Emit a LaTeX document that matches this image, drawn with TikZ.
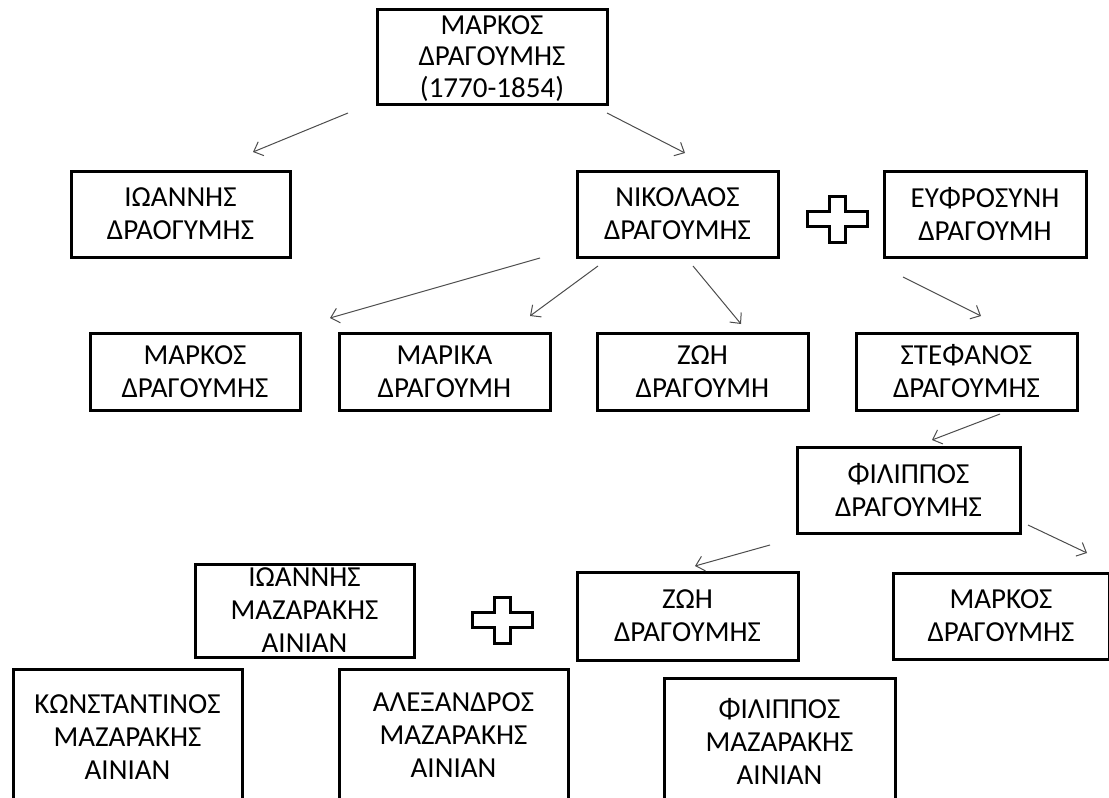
\documentclass[tikz,border=0pt]{standalone}
\usepackage{fontspec}
\setmainfont{Carlito}
\usetikzlibrary{arrows.meta}
\begin{document}
\begin{tikzpicture}[x=1pt,y=-1pt,
  box/.style={draw=black,line width=3pt,align=center,inner sep=0pt,
    font=\fontsize{29}{33}\selectfont},
  arr/.style={draw=black!70,line width=1pt,
    -{Straight Barb[length=8pt,width=15pt,line width=1pt]}},
  plus/.style={draw=black,line width=3pt,fill=white,line join=miter}]
\useasboundingbox (0,0) rectangle (1109,798);
\clip (0,0) rectangle (1109,798);
% boxes
\node[box,minimum width=230,minimum height=95,text depth=0pt,font=\fontsize{29}{31.5}\selectfont] (markos0) at (492,56.5) {ΜΑΡΚΟΣ\\ΔΡΑΓΟΥΜΗΣ\\(1770-1854)};
\node[box,minimum width=219,minimum height=86] (ioannis) at (180.5,214) {ΙΩΑΝΝΗΣ\\ΔΡΑΟΓΥΜΗΣ};
\node[box,minimum width=201,minimum height=86] (nikolaos) at (677.5,214) {ΝΙΚΟΛΑΟΣ\\ΔΡΑΓΟΥΜΗΣ};
\node[box,minimum width=202,minimum height=86] (efros) at (985,214) {ΕΥΦΡΟΣΥΝΗ\\ΔΡΑΓΟΥΜΗ};
\node[box,minimum width=210,minimum height=77] (markos1) at (195,371.5) {ΜΑΡΚΟΣ\\ΔΡΑΓΟΥΜΗΣ};
\node[box,minimum width=211,minimum height=77] (marika) at (444.5,371.5) {ΜΑΡΙΚΑ\\ΔΡΑΓΟΥΜΗ};
\node[box,minimum width=211,minimum height=77] (zoi1) at (702.5,371.5) {ΖΩΗ\\ΔΡΑΓΟΥΜΗ};
\node[box,minimum width=221,minimum height=77] (stefanos) at (966.5,371.5) {ΣΤΕΦΑΝΟΣ\\ΔΡΑΓΟΥΜΗΣ};
\node[box,minimum width=223,minimum height=86] (filippos1) at (908.5,490) {ΦΙΛΙΠΠΟΣ\\ΔΡΑΓΟΥΜΗΣ};
\node[box,minimum width=219,minimum height=93] (ioannisM) at (304.5,610.5) {ΙΩΑΝΝΗΣ\\ΜΑΖΑΡΑΚΗΣ\\ΑΙΝΙΑΝ};
\node[box,minimum width=221,minimum height=88] (zoi2) at (687.5,616) {ΖΩΗ\\ΔΡΑΓΟΥΜΗΣ};
\node[box,minimum width=216,minimum height=86] (markos2) at (1001,616) {ΜΑΡΚΟΣ\\ΔΡΑΓΟΥΜΗΣ};
\node[box,minimum width=229,minimum height=136] (konst) at (127.5,737) {ΚΩΝΣΤΑΝΤΙΝΟΣ\\ΜΑΖΑΡΑΚΗΣ\\ΑΙΝΙΑΝ};
\node[box,minimum width=229,minimum height=132] (alex) at (453.5,735) {ΑΛΕΞΑΝΔΡΟΣ\\ΜΑΖΑΡΑΚΗΣ\\ΑΙΝΙΑΝ};
\node[box,minimum width=231,minimum height=126] (filippos2) at (779.5,741) {ΦΙΛΙΠΠΟΣ\\ΜΑΖΑΡΑΚΗΣ\\ΑΙΝΙΑΝ};
% plus signs
\coordinate (plus1) at (837,219);
\coordinate (plus2) at (502,620);
\foreach \c in {plus1,plus2}{
  \draw[plus] ([shift={(-8,-23)}]\c) -- ([shift={(8,-23)}]\c) -- ([shift={(8,-7.5)}]\c)
    -- ([shift={(30,-7.5)}]\c) -- ([shift={(30,7.5)}]\c) -- ([shift={(8,7.5)}]\c)
    -- ([shift={(8,23)}]\c) -- ([shift={(-8,23)}]\c) -- ([shift={(-8,7.5)}]\c)
    -- ([shift={(-30,7.5)}]\c) -- ([shift={(-30,-7.5)}]\c) -- ([shift={(-8,-7.5)}]\c) -- cycle;
}
% arrow end points
\coordinate (a1s) at (348,113); \coordinate (a1e) at (253,152);
\coordinate (a2s) at (607,113); \coordinate (a2e) at (685,153);
\coordinate (a3s) at (540,258); \coordinate (a3e) at (330,318);
\coordinate (a4s) at (598,266); \coordinate (a4e) at (530,316);
\coordinate (a5s) at (693,266); \coordinate (a5e) at (741,324);
\coordinate (a6s) at (903,277); \coordinate (a6e) at (981,316);
\coordinate (a7s) at (1000,414); \coordinate (a7e) at (932,440);
\coordinate (a8s) at (770,545); \coordinate (a8e) at (695,566);
\coordinate (a9s) at (1028,525); \coordinate (a9e) at (1087,553);
\foreach \i in {1,...,9}{\draw[arr] (a\i s) -- (a\i e);}
\end{tikzpicture}
\end{document}
